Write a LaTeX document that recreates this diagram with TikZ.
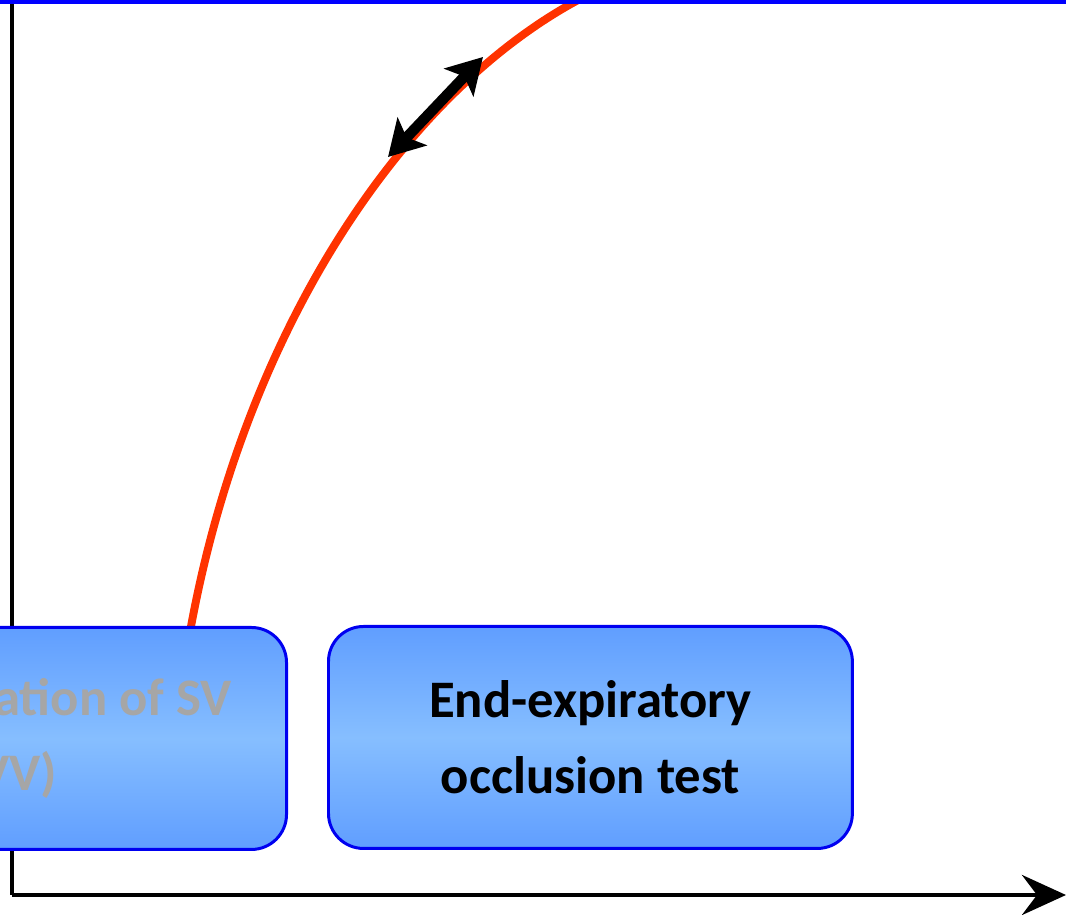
\documentclass[tikz,border=0pt]{standalone}
\usepackage{fontspec}
\setmainfont{Carlito}
\usepackage{tikz}
\usetikzlibrary{arrows.meta}
\definecolor{curvered}{RGB}{255,51,0}
\definecolor{boxblue}{RGB}{0,0,240}
\definecolor{boxtop}{RGB}{96,158,255}
\definecolor{boxmid}{RGB}{134,190,255}
\definecolor{fadedtext}{RGB}{166,166,166}

\tikzset{
  testbox/.style={draw=boxblue, line width=1.7pt, rounded corners=0.7cm,
    top color=boxtop, bottom color=boxtop, middle color=boxmid,
    minimum height=4.44cm, inner sep=0pt, align=center,
    font=\bfseries\fontsize{30}{43}\selectfont},
  axis/.style={line width=2.8pt},
  bigtip/.tip={Stealth[length=0.7cm, width=0.8cm, inset=0.16cm]}
}

\begin{document}
\begin{tikzpicture}[x=0.02cm, y=-0.02cm]
  \clip (0,0) rectangle (1066,915);
  \coordinate (top) at (12,-5);
  \coordinate (origin) at (12,895);
  \coordinate (xend) at (1066,895);
  \coordinate (curvestart) at (190,632);
  \coordinate (curveend) at (580,-1);
  \coordinate (lo) at (388,157);
  \coordinate (hi) at (483,57);

  % axes
  \draw[axis] (top) -- (origin);
  \draw[axis, -{Stealth[length=0.88cm, width=0.8cm, inset=0.3cm]}] (origin) -- (xend);

  % curve
  \draw[curvered, line width=4.5pt] (curvestart) .. controls (244,332) and (402,94) .. (curveend);
  \draw[blue, line width=2.3pt] (0,1.8) -- (1066,1.8);

  % boxes
  \node[testbox, text=fadedtext, minimum width=8.66cm, align=left, anchor=north east] (svvbox) at (288,626) {Variation of SV\\\hspace*{0.55em}(SVV)};
  \node[testbox, minimum width=10.48cm, anchor=north west] (eeobox) at (327,625) {End-expiratory\\occlusion test};

  \draw[line width=6pt, bigtip-bigtip] (lo) -- (hi);
\end{tikzpicture}
\end{document}
